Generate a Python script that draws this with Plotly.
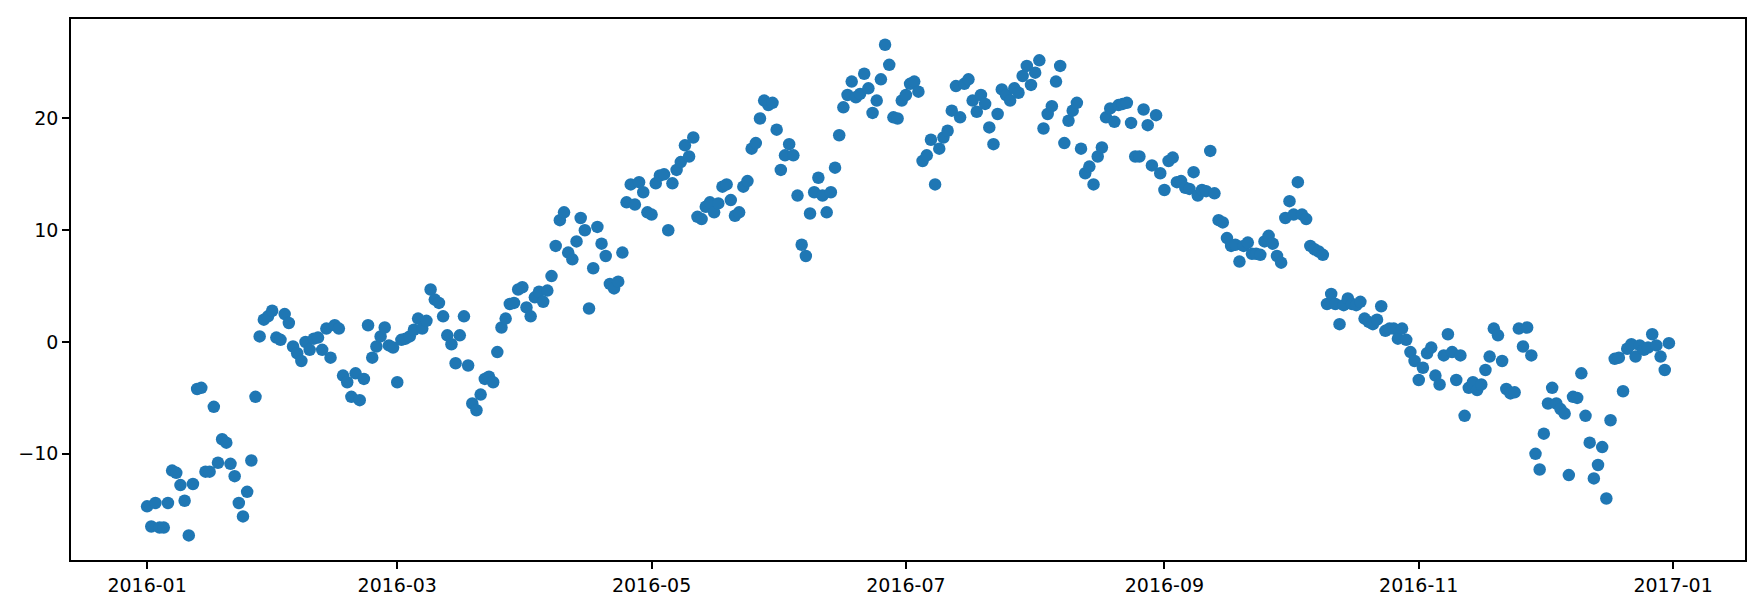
import pandas as pd
import plotly.graph_objects as go

start_date = "2016-01-01"
temperature = [
    -14.7, -16.5, -14.4, -16.6, -16.6, -14.4, -11.5, -11.7, -12.8, -14.2,
    -17.3, -12.7, -4.2, -4.1, -11.6, -11.6, -5.8, -10.8, -8.7, -9.0,
    -10.9, -12.0, -14.4, -15.6, -13.4, -10.6, -4.9, 0.5, 2.0, 2.3,
    2.8, 0.4, 0.2, 2.5, 1.7, -0.4, -1.0, -1.7, 0.0, -0.7,
    0.3, 0.4, -0.7, 1.2, -1.4, 1.5, 1.2, -3.0, -3.6, -4.9,
    -2.8, -5.2, -3.3, 1.5, -1.4, -0.4, 0.5, 1.3, -0.3, -0.5,
    -3.6, 0.2, 0.3, 0.5, 1.1, 2.1, 1.2, 1.9, 4.7, 3.8,
    3.5, 2.3, 0.6, -0.2, -1.9, 0.6, 2.3, -2.1, -5.5, -6.1,
    -4.7, -3.3, -3.1, -3.6, -0.9, 1.3, 2.1, 3.4, 3.5, 4.7,
    4.9, 3.1, 2.3, 4.0, 4.5, 3.6, 4.6, 5.9, 8.6, 10.9,
    11.6, 8.0, 7.4, 9.0, 11.1, 10.0, 3.0, 6.6, 10.3, 8.8,
    7.7, 5.2, 4.8, 5.4, 8.0, 12.5, 14.1, 12.3, 14.3, 13.4,
    11.6, 11.4, 14.2, 14.9, 15.0, 10.0, 14.2, 15.4, 16.1, 17.6,
    16.6, 18.3, 11.2, 11.0, 12.1, 12.5, 11.6, 12.4, 13.9, 14.1,
    12.7, 11.3, 11.6, 13.9, 14.4, 17.3, 17.8, 20.0, 21.6, 21.2,
    21.4, 19.0, 15.4, 16.7, 17.7, 16.7, 13.1, 8.7, 7.7, 11.5,
    13.4, 14.7, 13.1, 11.6, 13.4, 15.6, 18.5, 21.0, 22.1, 23.3,
    21.9, 22.2, 24.0, 22.7, 20.5, 21.6, 23.5, 26.6, 24.8, 20.1,
    20.0, 21.6, 22.1, 23.1, 23.3, 22.4, 16.2, 16.7, 18.1, 14.1,
    17.3, 18.3, 18.9, 20.7, 22.9, 20.1, 23.1, 23.5, 21.6, 20.6,
    22.1, 21.3, 19.2, 17.7, 20.4, 22.6, 22.1, 21.6, 22.7, 22.3,
    23.8, 24.7, 23.0, 24.1, 25.2, 19.1, 20.4, 21.1, 23.3, 24.7,
    17.8, 19.8, 20.7, 21.4, 17.3, 15.1, 15.7, 14.1, 16.6, 17.4,
    20.1, 20.9, 19.7, 21.2, 21.3, 21.4, 19.6, 16.6, 16.6, 20.8,
    19.4, 15.8, 20.3, 15.1, 13.6, 16.2, 16.5, 14.3, 14.4, 13.8,
    13.7, 15.2, 13.1, 13.6, 13.5, 17.1, 13.3, 10.9, 10.7, 9.3,
    8.6, 8.7, 7.2, 8.6, 8.9, 7.9, 7.9, 7.8, 9.0, 9.5,
    8.8, 7.7, 7.1, 11.1, 12.6, 11.4, 14.3, 11.4, 11.0, 8.6,
    8.3, 8.1, 7.8, 3.4, 4.3, 3.4, 1.6, 3.3, 3.9, 3.4,
    3.3, 3.6, 2.1, 1.8, 1.6, 2.0, 3.2, 1.0, 1.2, 1.2,
    0.3, 1.2, 0.2, -0.9, -1.7, -3.4, -2.3, -1.0, -0.5, -3.0,
    -3.8, -1.2, 0.7, -0.9, -3.4, -1.2, -6.6, -4.1, -3.6, -4.3,
    -3.8, -2.5, -1.3, 1.2, 0.6, -1.7, -4.2, -4.6, -4.5, 1.2,
    -0.4, 1.3, -1.2, -10.0, -11.4, -8.2, -5.5, -4.1, -5.5, -6.0,
    -6.4, -11.9, -4.9, -5.0, -2.8, -6.6, -9.0, -12.2, -11.0, -9.4,
    -14.0, -7.0, -1.5, -1.4, -4.4, -0.6, -0.2, -1.3, -0.3, -0.7,
    -0.5, 0.7, -0.3, -1.3, -2.5, -0.1,
]
dates = pd.date_range(start_date, periods=len(temperature), freq="D")

x_tick_vals = ["2016-01-01", "2016-03-01", "2016-05-01", "2016-07-01",
               "2016-09-01", "2016-11-01", "2017-01-01"]
x_tick_text = ["2016-01", "2016-03", "2016-05", "2016-07",
               "2016-09", "2016-11", "2017-01"]
y_tick_vals = [-10, 0, 10, 20]
y_tick_text = ["\u221210", "0", "10", "20"]

fig = go.Figure(
    go.Scatter(
        x=dates,
        y=temperature,
        mode="markers",
        marker=dict(size=12.5, color="#1f77b4", line=dict(width=0)),
        hoverinfo="x+y",
    )
)

font = dict(family="DejaVu Sans", size=19, color="black")
fig.update_layout(
    width=1754,
    height=600,
    margin=dict(l=63, r=17, t=9, b=48),
    paper_bgcolor="white",
    plot_bgcolor="white",
    showlegend=False,
    font=font,
)
axis_style = dict(
    showgrid=False,
    zeroline=False,
    showline=True,
    mirror=True,
    linecolor="black",
    linewidth=1.5,
    ticks="outside",
    ticklen=7,
    tickwidth=1.5,
    tickcolor="black",
    tickfont=font,
)
fig.update_xaxes(
    range=["2015-12-13 18:00", "2017-01-18 06:00"],
    tickvals=x_tick_vals,
    ticktext=x_tick_text,
    **axis_style,
)
fig.update_yaxes(
    range=[-19.5, 28.9],
    tickvals=y_tick_vals,
    ticktext=y_tick_text,
    **axis_style,
)

fig.write_html("out.html")
